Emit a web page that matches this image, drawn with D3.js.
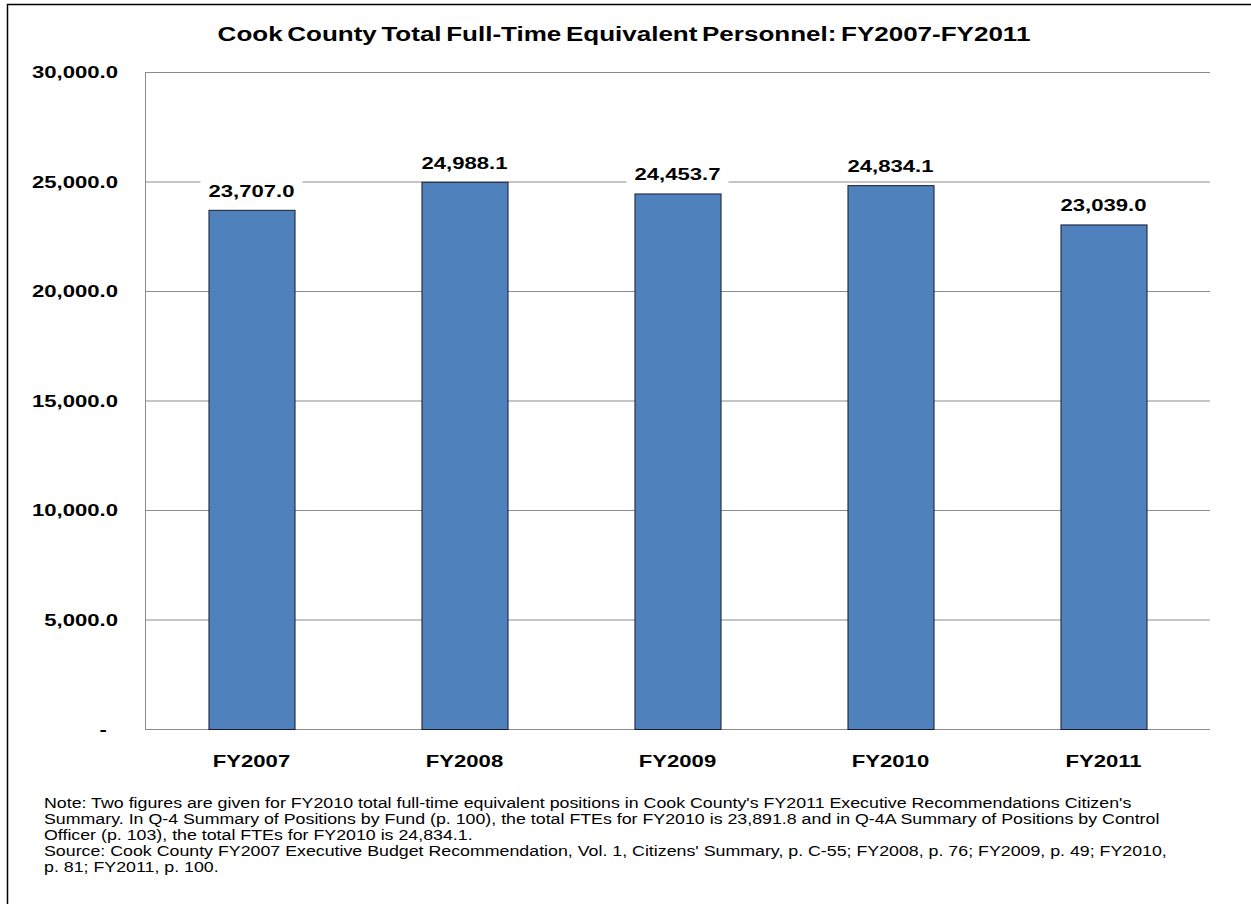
<!DOCTYPE html>
<html><head><meta charset="utf-8">
<script src="https://cdn.jsdelivr.net/npm/d3@7"></script>
<style>body{margin:0;background:#fff}svg{display:block;font-family:Arial,"Liberation Sans",sans-serif}</style>
</head><body><svg id="c" width="1251" height="904"></svg>
<script>
const categories = ["FY2007","FY2008","FY2009","FY2010","FY2011"];
const values = [23707.0, 24988.1, 24453.7, 24834.1, 23039.0];
const yTicks = [0,5000,10000,15000,20000,25000,30000];
const title = "Cook County Total Full-Time Equivalent Personnel: FY2007-FY2011";
const noteLines = [
 "Note: Two figures are given for FY2010 total full-time equivalent positions in Cook County's FY2011 Executive Recommendations Citizen's",
 "Summary. In Q-4 Summary of Positions by Fund (p. 100), the total FTEs for FY2010 is 23,891.8 and in Q-4A Summary of Positions by Control",
 "Officer (p. 103), the total FTEs for FY2010 is 24,834.1.",
 "Source: Cook County FY2007 Executive Budget Recommendation, Vol. 1, Citizens' Summary, p. C-55; FY2008, p. 76; FY2009, p. 49; FY2010,",
 "p. 81; FY2011, p. 100."
];
const SX = 1.3; // horizontal stretch of the reference's text
function stretch(sel, k){
  sel.each(function(){
    const w=this.getComputedTextLength();
    d3.select(this).attr("textLength",w*(k||SX)).attr("lengthAdjust","spacingAndGlyphs");
  });
}
const svg = d3.select("#c");
svg.append("rect").attr("x",7.5).attr("y",4.5).attr("width",1260).attr("height",920).attr("fill","#fff").attr("stroke","#000").attr("stroke-width",1.5);
const L=145,R=1210,T=72,B=729;
const x=d3.scaleBand().domain(categories).range([L,R]).paddingInner(0.596).paddingOuter(0.298);
const y=d3.scaleLinear().domain([0,30000]).range([B,T]);
const fmt=d3.format(",.1f");
svg.append("g").selectAll("line").data(yTicks.filter(d=>d>0)).join("line")
 .attr("x1",L).attr("x2",R).attr("y1",d=>y(d)+0.5).attr("y2",d=>y(d)+0.5).attr("stroke","#8c8c8c").attr("stroke-width",1);
svg.append("line").attr("x1",L+0.5).attr("x2",L+0.5).attr("y1",T).attr("y2",B+1).attr("stroke","#8c8c8c");
svg.append("line").attr("x1",L).attr("x2",R).attr("y1",B+0.5).attr("y2",B+0.5).attr("stroke","#8c8c8c");
svg.append("g").selectAll("text").data(yTicks).join("text")
 .attr("x",d=>d===0?107:118).attr("y",d=>y(d)+6).attr("text-anchor","end")
 .attr("font-size",17).attr("font-weight","bold").attr("fill","#000")
 .text(d=>d===0?"-":fmt(d)).call(stretch);
svg.append("g").selectAll("rect").data(values).join("rect")
 .attr("x",(d,i)=>x(categories[i])+0.5).attr("width",x.bandwidth())
 .attr("y",d=>y(d)+0.5).attr("height",d=>B-y(d))
 .attr("fill","#4f81bd").attr("stroke","#1a1a2e").attr("stroke-width",1);
const lg=svg.append("g");
values.forEach((d,i)=>{
 const cx=x(categories[i])+x.bandwidth()/2;
 const t=lg.append("text").attr("x",cx).attr("y",y(d)-13).attr("text-anchor","middle")
  .attr("font-size",17).attr("font-weight","bold").attr("fill","#000").text(fmt(d)).call(stretch);
 const bb=t.node().getBBox();
 lg.insert("rect","text").attr("x",bb.x-8).attr("y",bb.y-2).attr("width",bb.width+16).attr("height",bb.height+4).attr("fill","#fff");
});
svg.append("g").selectAll("text").data(categories).join("text")
 .attr("x",d=>x(d)+x.bandwidth()/2).attr("y",767).attr("text-anchor","middle")
 .attr("font-size",17).attr("font-weight","bold").attr("fill","#000").text(d=>d).call(stretch);
svg.append("text").attr("x",624).attr("y",41).attr("text-anchor","middle")
 .attr("font-size",20).attr("font-weight","bold").attr("fill","#000").attr("word-spacing",-2).text(title).call(stretch);
const nt=svg.append("g").selectAll("text").data(noteLines).join("text")
 .attr("x",44).attr("y",(d,i)=>808+i*16).attr("font-size",14).attr("fill","#000").text(d=>d).call(stretch,1.27);
</script></body></html>
